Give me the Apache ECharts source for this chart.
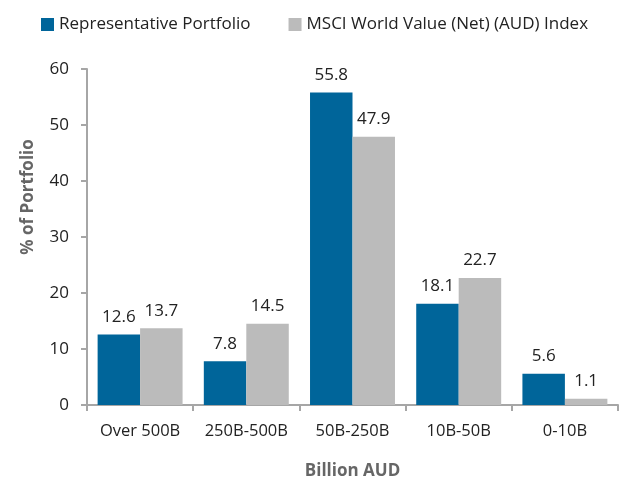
<!DOCTYPE html>
<html><head><meta charset="utf-8">
<script src="https://cdn.jsdelivr.net/npm/echarts@6/dist/echarts.min.js"></script>
<style>html,body{margin:0;padding:0;background:#fff}#c{width:623px;height:479px}</style>
</head><body><div id="c"></div>
<script>
const categories = ["Over 500B", "250B-500B", "50B-250B", "10B-50B", "0-10B"];
const portfolio = [12.6, 7.8, 55.8, 18.1, 5.6];
const index = [13.7, 14.5, 47.9, 22.7, 1.1];
const seriesNames = ["Representative Portfolio", "MSCI World Value (Net) (AUD) Index"];
const font = "'Open Sans', 'Noto Sans', sans-serif";
const chart = echarts.init(document.getElementById('c'));
const label = {show: true, position: 'top', distance: 9, color: '#222', fontSize: 17, fontFamily: font};
chart.setOption({
  animation: false,
  textStyle: {fontFamily: font},
  legend: {
    top: 11, left: 36, itemWidth: 13, itemHeight: 13, itemGap: 38, icon: 'rect',
    textStyle: {color: '#222', fontSize: 17, fontFamily: font}
  },
  grid: {left: 87, right: 5, top: 69, bottom: 74, containLabel: false, outerBoundsMode: 'none'},
  xAxis: {
    type: 'category', data: categories,
    name: 'Billion AUD', nameLocation: 'middle', nameGap: 58,
    nameTextStyle: {color: '#666', fontSize: 17, fontWeight: 'bold', fontFamily: font},
    axisLine: {lineStyle: {color: '#a6a6a6', width: 2}},
    axisTick: {show: true, length: 6, lineStyle: {color: '#a6a6a6', width: 2}},
    axisLabel: {color: '#222', fontSize: 16.5, margin: 18, interval: 0, hideOverlap: false, fontFamily: font}
  },
  yAxis: {
    type: 'value', min: 0, max: 60, interval: 10,
    name: '% of Portfolio', nameLocation: 'middle', nameGap: 50, nameRotate: 90,
    nameTextStyle: {color: '#666', fontSize: 17, fontWeight: 'bold', fontFamily: font, padding: [0, 0, 0, 80]},
    axisLine: {show: true, lineStyle: {color: '#a6a6a6', width: 2}},
    axisTick: {show: true, length: 6, lineStyle: {color: '#a6a6a6', width: 2}},
    splitLine: {show: false},
    axisLabel: {color: '#222', fontSize: 17, margin: 18, fontFamily: font}
  },
  series: [
    {name: seriesNames[0], type: 'bar', data: portfolio, barGap: '0%', barCategoryGap: '20%',
     itemStyle: {color: '#00659a'}, label: label},
    {name: seriesNames[1], type: 'bar', data: index,
     itemStyle: {color: '#bbbbbb'}, label: label}
  ]
});
</script></body></html>
